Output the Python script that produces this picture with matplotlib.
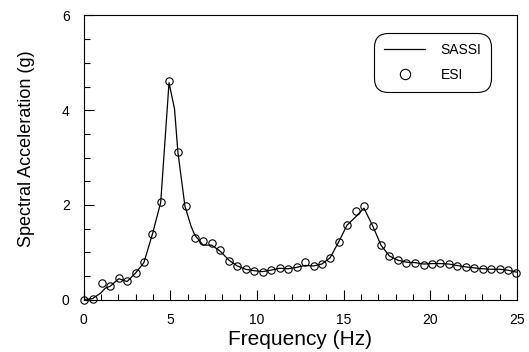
import matplotlib

matplotlib.use("Agg")
import matplotlib.pyplot as plt
from matplotlib.ticker import MultipleLocator

# ESI results (open circles)
esi_freq = [
    0.0, 0.52, 1.04, 1.53, 2.03, 2.51, 3.0, 3.48, 3.97, 4.45,
    4.93, 5.44, 5.92, 6.42, 6.9, 7.39, 7.89, 8.39, 8.87, 9.35,
    9.83, 10.33, 10.81, 11.31, 11.79, 12.29, 12.78, 13.27, 13.75, 14.22,
    14.71, 15.2, 15.71, 16.18, 16.69, 17.16, 17.65, 18.14, 18.63, 19.12,
    19.63, 20.1, 20.59, 21.07, 21.54, 22.05, 22.52, 23.03, 23.5, 24.0,
    24.48, 24.97,
]
esi_sa = [
    0.0, 0.02, 0.34, 0.29, 0.45, 0.39, 0.57, 0.79, 1.38, 2.05,
    4.61, 3.12, 1.97, 1.31, 1.24, 1.19, 1.04, 0.81, 0.71, 0.64,
    0.61, 0.58, 0.62, 0.67, 0.64, 0.68, 0.79, 0.71, 0.76, 0.88,
    1.21, 1.57, 1.86, 1.97, 1.55, 1.15, 0.92, 0.83, 0.78, 0.78,
    0.73, 0.76, 0.77, 0.76, 0.71, 0.68, 0.67, 0.64, 0.64, 0.65,
    0.62, 0.57,
]

# SASSI results (solid line)
sassi_freq = [
    0.0, 0.52, 1.0, 1.25, 1.53, 2.03, 2.51, 3.0, 3.48, 3.97,
    4.45, 4.93, 5.25, 5.44, 5.85, 6.2, 6.42, 6.9, 7.39, 7.89,
    8.39, 8.87, 9.35, 9.83, 10.33, 10.81, 11.31, 11.79, 12.29, 12.78,
    13.27, 13.75, 14.22, 14.71, 15.2, 15.71, 16.18, 16.69, 17.16, 17.65,
    18.14, 18.63, 19.12, 19.63, 20.1, 20.59, 21.07, 21.54, 22.05, 22.52,
    23.03, 23.5, 24.0, 24.48, 24.97,
]
sassi_sa = [
    0.0, 0.02, 0.14, 0.24, 0.28, 0.44, 0.38, 0.56, 0.78, 1.38,
    2.05, 4.58, 4.02, 3.12, 1.97, 1.55, 1.36, 1.15, 1.15, 1.02,
    0.83, 0.71, 0.64, 0.61, 0.59, 0.62, 0.66, 0.65, 0.68, 0.72,
    0.71, 0.75, 0.88, 1.21, 1.57, 1.75, 1.93, 1.55, 1.15, 0.92,
    0.83, 0.79, 0.78, 0.75, 0.76, 0.76, 0.75, 0.72, 0.69, 0.67,
    0.65, 0.64, 0.64, 0.62, 0.58,
]


def main() -> None:
    plt.rcParams.update({"font.family": "Liberation Sans"})

    fig = plt.figure(figsize=(5.29, 3.52), dpi=100)
    ax = fig.add_axes([0.158, 0.149, 0.819, 0.807])

    ax.plot(sassi_freq, sassi_sa, color="black", linewidth=0.9, label="SASSI")
    ax.plot(
        esi_freq,
        esi_sa,
        linestyle="none",
        marker="o",
        markersize=5.3,
        markerfacecolor="none",
        markeredgecolor="black",
        markeredgewidth=0.8,
        label="ESI",
        clip_on=False,
    )

    ax.set_xlim(0, 25)
    ax.set_ylim(0, 6)
    ax.xaxis.set_major_locator(MultipleLocator(5))
    ax.xaxis.set_minor_locator(MultipleLocator(1))
    ax.yaxis.set_major_locator(MultipleLocator(2))
    ax.yaxis.set_minor_locator(MultipleLocator(0.5))
    ax.tick_params(which="both", direction="in", top=False, right=False, labelsize=10, width=0.8)
    ax.tick_params(axis="x", which="major", length=7, pad=10)
    ax.tick_params(axis="y", which="major", length=7, pad=10)
    ax.tick_params(which="minor", length=4)
    for spine in ax.spines.values():
        spine.set_linewidth(0.8)

    ax.set_xlabel("Frequency (Hz)", fontsize=15, labelpad=2)
    ax.set_ylabel("Spectral Acceleration (g)", fontsize=13)
    ax.yaxis.set_label_coords(-0.112, 0.53)

    leg = ax.legend(
        loc="upper right",
        bbox_to_anchor=(0.941, 0.937),
        borderaxespad=0,
        fontsize=10,
        markerscale=1.4,
        handlelength=3.0,
        handletextpad=1.1,
        labelspacing=0.8,
        borderpad=0.7,
        fancybox=True,
        framealpha=1,
        edgecolor="black",
    )
    leg.get_frame().set_linewidth(0.8)
    leg.get_frame().set_boxstyle("round", pad=0, rounding_size=1.0)

    fig.savefig("out.png", dpi=100)


if __name__ == "__main__":
    main()
